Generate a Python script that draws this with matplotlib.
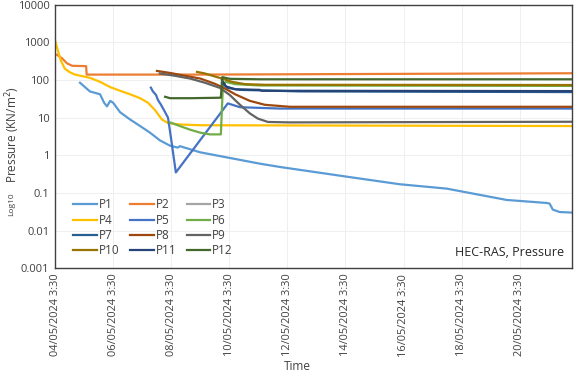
import numpy as np
import pandas as pd
import matplotlib
matplotlib.use("Agg")
from matplotlib import pyplot as plt
from matplotlib.ticker import FixedLocator, NullLocator

plt.rcParams['font.family'] = ['Open Sans', 'DejaVu Sans']

t0 = pd.Timestamp("2024-05-04 03:30")
t_end_days = 17.8

# series: (days since t0, pressure kN/m2)
p1_t = [0.86, 1.2, 1.55, 1.69, 1.79, 1.9, 2.0, 2.24, 2.58, 2.93, 3.27, 3.61, 3.96, 4.23, 4.3,
        4.65, 5.0, 6.02, 7.05, 7.74, 10.05, 11.87, 13.49, 15.55, 16.93, 17.03, 17.14, 17.38, 17.8]
p1_v = [85, 50, 42, 25, 20, 28, 25, 14, 9, 6, 4, 2.5, 1.8, 1.6, 1.75,
        1.45, 1.2, 0.85, 0.6, 0.49, 0.27, 0.17, 0.13, 0.065, 0.054, 0.052, 0.036, 0.031, 0.03]

p2_t = [0.07, 0.24, 0.41, 0.59, 1.07, 1.09, 5.0, 17.8]
p2_v = [470, 380, 280, 240, 235, 140, 140, 152]

p3_t = []
p3_v = []

p4_t = [0.0, 0.1, 0.2, 0.34, 0.52, 0.69, 1.2, 1.55, 1.9, 2.24, 2.58, 2.93, 3.2, 3.44, 3.68,
        3.89, 4.3, 5.0, 17.8]
p4_v = [1150, 600, 330, 200, 160, 140, 115, 90, 65, 52, 42, 33, 25, 16, 9,
        7.2, 6.6, 6.3, 6.0]

p5_t = [3.3, 3.37, 3.48, 3.54, 3.65, 3.75, 3.89, 3.99, 4.16, 5.95, 6.37, 7.74, 17.8]
p5_v = [63, 50, 40, 30, 22, 16, 10, 3, 0.35, 24, 19, 17.5, 17.5]

p6_t = [3.96, 4.3, 4.65, 5.0, 5.33, 5.71, 5.78, 5.88, 6.2, 7.05, 17.8]
p6_v = [7.5, 6, 4.8, 4.0, 3.6, 3.6, 70, 90, 78, 72, 70]

p7_t = [5.75, 5.95, 6.37, 8.43, 17.8]
p7_v = [85, 62, 55, 50, 48]

p8_t = [3.51, 3.96, 4.48, 5.0, 5.5, 5.85, 6.2, 6.71, 7.23, 8.09, 17.8]
p8_v = [175, 155, 130, 110, 80, 60, 42, 28, 22, 19.5, 19.5]

p9_t = [3.61, 4.13, 4.65, 5.16, 5.68, 6.02, 6.37, 6.71, 6.98, 7.33, 8.09, 17.8]
p9_v = [150, 130, 110, 85, 62, 40, 22, 13, 9.5, 7.7, 7.5, 7.8]

p10_t = [4.89, 5.16, 5.5, 5.75, 6.09, 6.54, 7.23, 17.8]
p10_v = [165, 150, 125, 110, 90, 78, 75, 74]

p11_t = [5.75, 5.88, 6.2, 7.05, 7.12, 17.8]
p11_v = [100, 68, 57, 55, 52, 51]

p12_t = [3.79, 3.96, 4.65, 5.71, 5.76, 6.02, 7.05, 17.8]
p12_v = [36, 33, 33, 34, 120, 108, 105, 105]

names = ["P1", "P2", "P3", "P4", "P5", "P6", "P7", "P8", "P9", "P10", "P11", "P12"]
times = [p1_t, p2_t, p3_t, p4_t, p5_t, p6_t, p7_t, p8_t, p9_t, p10_t, p11_t, p12_t]
values = [p1_v, p2_v, p3_v, p4_v, p5_v, p6_v, p7_v, p8_v, p9_v, p10_v, p11_v, p12_v]
colors = ["#5B9BD5", "#ED7D31", "#A5A5A5", "#FFC000", "#4472C4", "#70AD47",
          "#255E91", "#9E480E", "#636363", "#997300", "#264478", "#43682B"]

y_ticks = [0.001, 0.01, 0.1, 1, 10, 100, 1000, 10000]
y_labels = ["0.001", "0.01", "0.1", "1", "10", "100", "1000", "10000"]

fig = plt.figure(figsize=(5.75, 3.75), dpi=100)
ax = fig.add_axes([0.0957, 0.285, 0.899, 0.702])

to_dt = lambda d: t0 + pd.to_timedelta(np.array(d, dtype=float), unit="D")

handles = []
for name, tt, vv, c in zip(names, times, values, colors):
    h, = ax.plot(to_dt(tt), vv, color=c, lw=1.6, label=name)
    handles.append(h)

ax.set_yscale("log")
ax.set_ylim(0.001, 10000)
ax.yaxis.set_major_locator(FixedLocator(y_ticks))
ax.set_yticklabels(y_labels)
ax.yaxis.set_minor_locator(NullLocator())

ax.set_xlim(t0, t0 + pd.Timedelta(days=t_end_days))
xt = [t0 + pd.Timedelta(days=2 * i) for i in range(9)]
ax.set_xticks(xt)
ax.set_xticklabels([d.strftime("%d/%m/%Y ") + f"{d.hour}:{d.minute:02d}" for d in xt],
                   rotation=90)

ax.tick_params(axis="y", labelsize=8, colors="#404040", length=0, pad=4)
ax.tick_params(axis="x", labelsize=7.9, colors="#404040", length=0, pad=4)
ax.grid(True, color="#EFEFEF", lw=0.7)
ax.set_axisbelow(True)
for s in ax.spines.values():
    s.set_color("#404040")
    s.set_linewidth(1.0)

fig.text(0.518, 0.004, "Time", fontsize=8.5, color="#404040", ha="center", va="bottom")

# y label: small "Log10" then "Pressure (KN/m2)"
fig.text(0.02, 0.455, "Log10", rotation=90, fontsize=6, color="#404040",
         ha="center", va="center")
fig.text(0.022, 0.64, "Pressure (KN/m$^2$)", rotation=90, fontsize=8.5,
         color="#404040", ha="center", va="center")

ax.text(0.985, 0.035, "HEC-RAS, Pressure", transform=ax.transAxes, ha="right",
        va="bottom", fontsize=9, color="#262626")

# row-wise legend order (P1 P2 P3 / P4 P5 P6 ...)
order = [0, 3, 6, 9, 1, 4, 7, 10, 2, 5, 8, 11]
ax.legend([handles[i] for i in order], [names[i] for i in order],
          loc="lower left", bbox_to_anchor=(0.015, 0.0), ncol=3, frameon=False,
          fontsize=8.5, handlelength=2.0, labelspacing=0.2, columnspacing=0.9,
          handletextpad=0.15, labelcolor="#404040")

fig.savefig("out.png", dpi=100)
